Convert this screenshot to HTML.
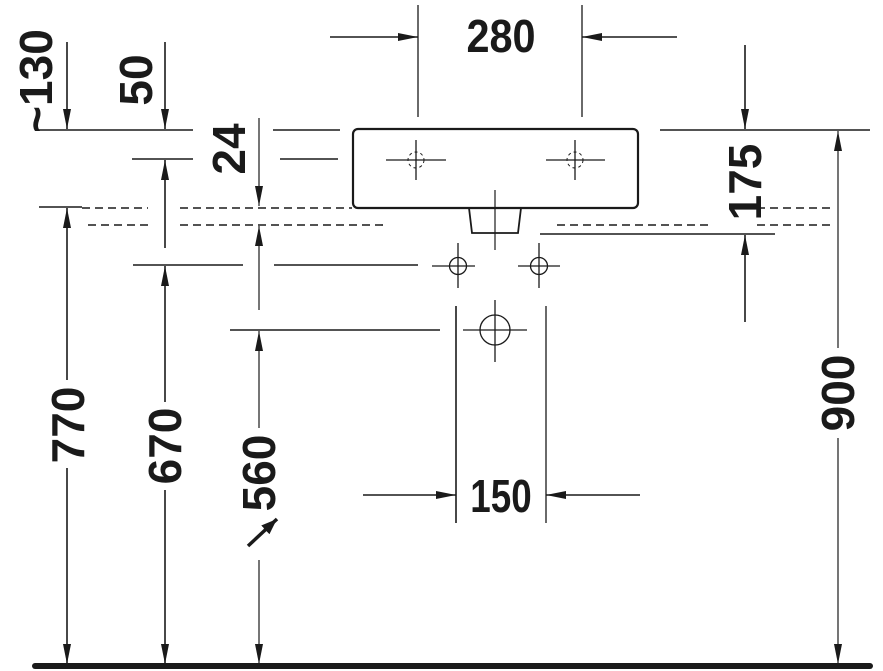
<!DOCTYPE html>
<html><head><meta charset="utf-8"><style>
html,body{margin:0;padding:0;background:#fff;}
svg{display:block}
text{font-family:"Liberation Sans",sans-serif;font-weight:bold;fill:#1a1a1a;}
</style></head><body>
<svg width="883" height="671" viewBox="0 0 883 671" xmlns="http://www.w3.org/2000/svg">
<defs>
<marker id="a" viewBox="0 0 20 8" refX="20" refY="4" markerWidth="20" markerHeight="8" markerUnits="userSpaceOnUse" orient="auto"><path d="M0,0 L20,4 L0,8 Z" fill="#1a1a1a"/></marker>
<marker id="b" viewBox="0 0 16 12" refX="16" refY="6" markerWidth="16" markerHeight="12" markerUnits="userSpaceOnUse" orient="auto"><path d="M0,0 L16,6 L0,12 Z" fill="#1a1a1a"/></marker>
</defs>
<g stroke="#1a1a1a" fill="none">
<line x1="418" y1="5" x2="418" y2="117" stroke-width="1.3"/>
<line x1="582" y1="5" x2="582" y2="117" stroke-width="1.3"/>
<line x1="330" y1="37" x2="418" y2="37" stroke-width="1.6" marker-end="url(#a)"/>
<line x1="677" y1="37" x2="582" y2="37" stroke-width="1.6" marker-end="url(#a)"/>
<rect x="353" y="129" width="285" height="79" rx="5" stroke-width="2.2"/>
<g stroke-width="1.3">
<line x1="386" y1="160" x2="446" y2="160"/><line x1="416" y1="140" x2="416" y2="180"/>
<line x1="546" y1="160" x2="605" y2="160"/><line x1="575" y1="140" x2="575" y2="180"/>
</g>
<circle cx="416" cy="160" r="8" stroke-width="1" stroke-dasharray="3,3"/>
<circle cx="575" cy="160" r="8" stroke-width="1" stroke-dasharray="3,3"/>
<path d="M469,208 L472,233 L518,233 L521,208" stroke-width="1.8"/>
<line x1="495" y1="190" x2="495" y2="250" stroke-width="1.2"/>
<g stroke-width="1.6">
<line x1="37" y1="130" x2="193" y2="130"/><line x1="273" y1="130" x2="340" y2="130"/>
<line x1="660" y1="130" x2="870" y2="130"/>
<line x1="132" y1="159" x2="193" y2="159"/><line x1="280" y1="159" x2="338" y2="159"/>
<line x1="39" y1="207" x2="82" y2="207"/>
<line x1="540" y1="234" x2="775" y2="234"/>
<line x1="133" y1="265" x2="243" y2="265"/><line x1="274" y1="265" x2="418" y2="265"/>
<line x1="230" y1="330" x2="440" y2="330"/>
</g>
<g stroke-width="1.6" stroke-dasharray="8,5">
<line x1="82" y1="208" x2="148" y2="208"/><line x1="180" y1="208" x2="352" y2="208"/>
<line x1="568" y1="208" x2="628" y2="208"/><line x1="757" y1="208" x2="830" y2="208"/>
<line x1="88" y1="225" x2="148" y2="225"/><line x1="180" y1="225" x2="384" y2="225"/>
<line x1="557" y1="225" x2="712" y2="225"/><line x1="757" y1="225" x2="830" y2="225"/>
</g>
<g stroke-width="1.3">
<circle cx="458" cy="266" r="8.5"/><line x1="432" y1="266" x2="475" y2="266"/><line x1="458" y1="243" x2="458" y2="288"/>
<circle cx="539" cy="266" r="8.5"/><line x1="518" y1="266" x2="560" y2="266"/><line x1="539" y1="243" x2="539" y2="288"/>
<circle cx="495" cy="330" r="15"/><line x1="463" y1="330" x2="527" y2="330"/><line x1="495" y1="300" x2="495" y2="362"/>
<line x1="456" y1="306" x2="456" y2="523" stroke-width="1.6"/><line x1="546" y1="306" x2="546" y2="523"/>
</g>
<line x1="363" y1="495" x2="456" y2="495" stroke-width="1.6" marker-end="url(#a)"/>
<line x1="640" y1="495" x2="546" y2="495" stroke-width="1.6" marker-end="url(#a)"/>
<line x1="67" y1="42" x2="67" y2="129" stroke-width="1.6" marker-end="url(#a)"/>
<line x1="67" y1="380" x2="67" y2="208" stroke-width="1.6" marker-end="url(#a)"/>
<line x1="67" y1="468" x2="67" y2="664" stroke-width="1.6" marker-end="url(#a)"/>
<line x1="165" y1="42" x2="165" y2="129" stroke-width="1.6" marker-end="url(#a)"/>
<line x1="165" y1="248" x2="165" y2="160" stroke-width="1.6" marker-end="url(#a)"/>
<line x1="165" y1="402" x2="165" y2="266" stroke-width="1.6" marker-end="url(#a)"/>
<line x1="165" y1="490" x2="165" y2="664" stroke-width="1.6" marker-end="url(#a)"/>
<line x1="259" y1="118" x2="259" y2="206" stroke-width="1.2" marker-end="url(#a)"/>
<line x1="259" y1="310" x2="259" y2="226" stroke-width="1.2" marker-end="url(#a)"/>
<line x1="259" y1="428" x2="259" y2="331" stroke-width="1.2" marker-end="url(#a)"/>
<line x1="259" y1="560" x2="259" y2="664" stroke-width="1.2" marker-end="url(#a)"/>
<line x1="248" y1="546" x2="277" y2="519" stroke-width="3.5" marker-end="url(#b)"/>
<line x1="745" y1="45" x2="745" y2="129" stroke-width="1.6" marker-end="url(#a)"/>
<line x1="745" y1="322" x2="745" y2="235" stroke-width="1.6" marker-end="url(#a)"/>
<line x1="838" y1="348" x2="838" y2="131" stroke-width="1.2" marker-end="url(#a)"/>
<line x1="838" y1="438" x2="838" y2="664" stroke-width="1.2" marker-end="url(#a)"/>
</g>
<line x1="35" y1="666" x2="870" y2="666" stroke="#1a1a1a" stroke-width="6" stroke-linecap="round"/>
<g font-size="46">
<text x="501" y="52" text-anchor="middle" transform="translate(501 0) scale(0.9 1) translate(-501 0)">280</text>
<text x="501" y="512" text-anchor="middle" transform="translate(501 0) scale(0.8 1) translate(-501 0)">150</text>
<text transform="translate(52 81) rotate(-90)" text-anchor="middle">~130</text>
<text transform="translate(152 80) rotate(-90)" text-anchor="middle">50</text>
<text transform="translate(245 149) rotate(-90)" text-anchor="middle">24</text>
<text transform="translate(761 182) rotate(-90)" text-anchor="middle">175</text>
<text transform="translate(854 393) rotate(-90)" text-anchor="middle">900</text>
<text transform="translate(84 425) rotate(-90)" text-anchor="middle">770</text>
<text transform="translate(181 446) rotate(-90)" text-anchor="middle">670</text>
<text transform="translate(275 473) rotate(-90)" text-anchor="middle">560</text>
</g>
</svg>
</body></html>
